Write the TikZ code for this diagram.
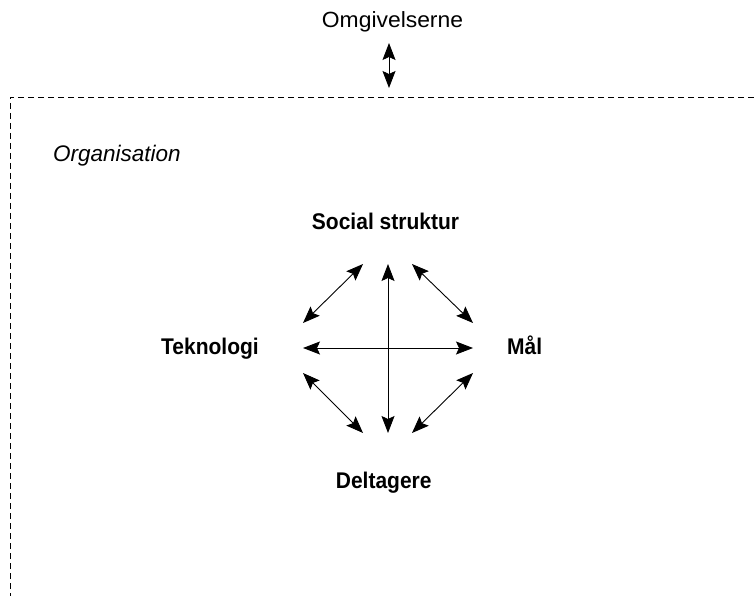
\documentclass[tikz,border=0pt]{standalone}
\usepackage{fontspec}
\setmainfont{Liberation Sans}
\usetikzlibrary{arrows.meta}
\begin{document}
\begin{tikzpicture}[x=1pt,y=-1pt,
  link/.style={line width=0.9pt,{Stealth[length=17pt,width=13pt,inset=3pt]}-{Stealth[length=17pt,width=13pt,inset=3pt]}},
  label/.style={inner sep=0pt,anchor=base},
  factor/.style={label,font=\fontsize{21}{24}\selectfont\bfseries,yscale=1.08},
  frame/.style={line width=0.9pt,dash pattern=on 6pt off 4pt}]
\useasboundingbox (0,0) rectangle (754,596);
% environment and organisation boundary
\node[label,font=\fontsize{22}{26}\selectfont,xscale=1.04] (env) at (392.5,27.5) {Omgivelserne};
\coordinate (envtop) at (389,43);
\coordinate (envbot) at (389,88);
\draw[link] (envtop) -- (envbot);
\draw[frame] (754,97) -- (10,97) -- (10,596);
\node[label,font=\fontsize{22.5}{26}\selectfont\itshape,anchor=base west] (org) at (53,161) {Organisation};
% the four components
\node[factor] (soc) at (385.5,229) {Social struktur};
\node[factor] (tek) at (210,354.3) {Teknologi};
\node[factor] (maal) at (524.7,354.3) {Mål};
\node[factor] (del) at (383.7,488.3) {Deltagere};
% arrow end points around the centre
\coordinate (n) at (388,264);
\coordinate (s) at (388,433);
\coordinate (w) at (303,348);
\coordinate (e) at (473,348);
\coordinate (nw1) at (303,323);
\coordinate (nw2) at (363,264);
\coordinate (ne1) at (412,264);
\coordinate (ne2) at (473,323);
\coordinate (sw1) at (303,373);
\coordinate (sw2) at (363,433);
\coordinate (se1) at (412,433);
\coordinate (se2) at (473,373);
\draw[link] (n) -- (s);
\draw[link] (w) -- (e);
\draw[link] (nw1) -- (nw2);
\draw[link] (ne1) -- (ne2);
\draw[link] (sw1) -- (sw2);
\draw[link] (se1) -- (se2);
\end{tikzpicture}
\end{document}
